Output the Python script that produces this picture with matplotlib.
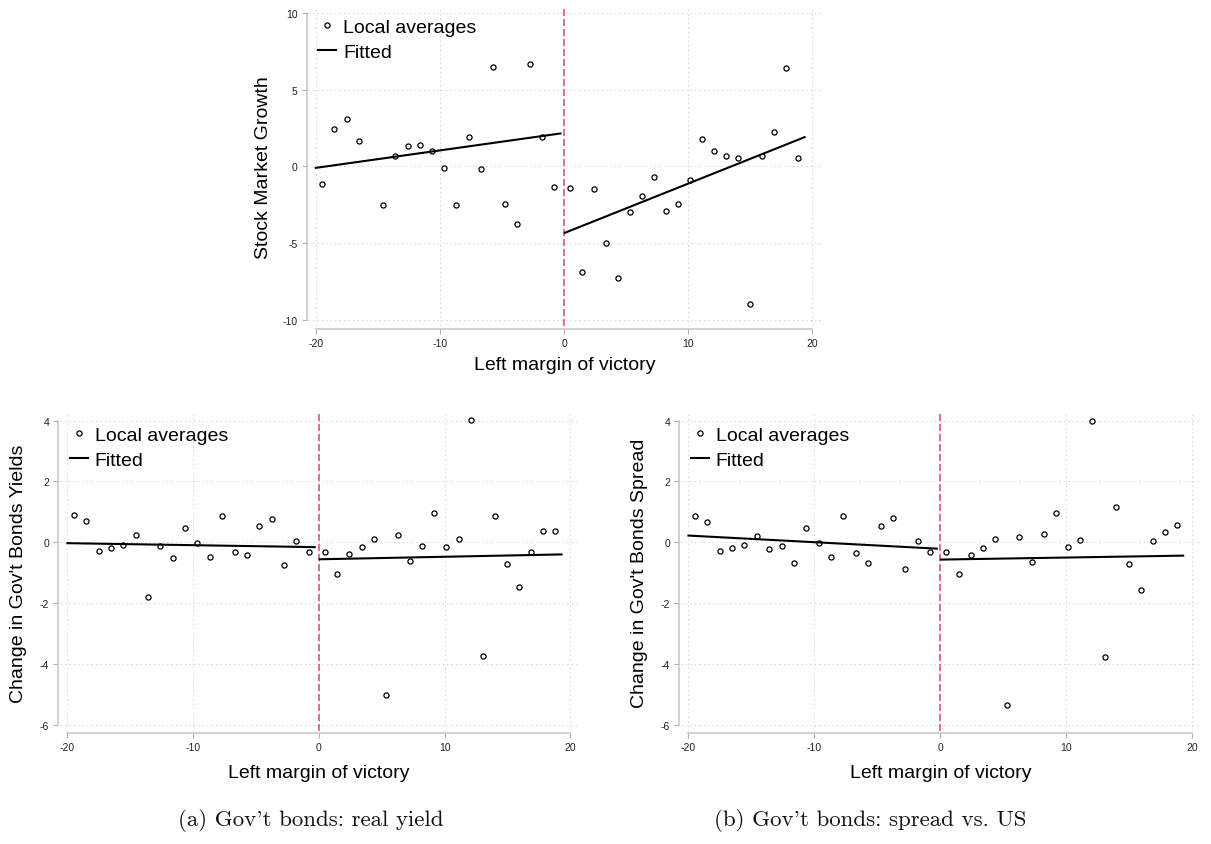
import matplotlib
matplotlib.use("Agg")
import matplotlib.pyplot as plt
from matplotlib.lines import Line2D

plt.rcParams.update({
    "font.family": ["Liberation Sans", "DejaVu Sans"],
    "axes.unicode_minus": False,
    "lines.scale_dashes": False,
})

# ---------------- data ----------------
x_ticks = [-20, -10, 0, 10, 20]

# bin centres (left / right of cutoff)
x_left = [-19.49, -18.5, -17.52, -16.54, -15.56, -14.57, -13.59, -12.6, -11.62, -10.64,
          -9.66, -8.67, -7.69, -6.71, -5.72, -4.74, -3.76, -2.77, -1.79, -0.8]
x_right = [0.49, 1.46, 2.43, 3.4, 4.37, 5.34, 6.28, 7.26, 8.22, 9.18,
           10.15, 11.12, 12.09, 13.06, 14.0, 14.97, 15.94, 16.91, 17.85, 18.82]

# Panel 1: stock market growth
stock_x_left = [-19.49, -18.5, -17.52, -16.54, -14.57, -13.59, -12.6, -11.62, -10.64,
                -9.66, -8.67, -7.69, -6.71, -5.72, -4.74, -3.76, -2.77, -1.79, -0.8]
stock_left = [-1.16, 2.41, 3.09, 1.64, -2.54, 0.70, 1.32, 1.40, 1.01,
              -0.11, -2.50, 1.91, -0.15, 6.45, -2.43, -3.73, 6.69, 1.95, -1.32]
stock_right = [-1.40, -6.89, -1.45, -5.0, -7.28, -2.98, -1.91, -0.70, -2.87, -2.46,
               -0.86, 1.78, 1.01, 0.70, 0.55, -8.99, 0.68, 2.26, 6.40, 0.57]
stock_fit_left_x = [-20.0, -0.3]
stock_fit_left_y = [-0.09, 2.15]
stock_fit_right_x = [0.06, 19.37]
stock_fit_right_y = [-4.32, 1.91]

# Panel (a): government bond yields
yield_left = [0.89, 0.69, -0.29, -0.19, -0.09, 0.23, -1.79, -0.11, -0.52, 0.46,
              -0.02, -0.47, 0.88, -0.33, -0.43, 0.53, 0.78, -0.76, 0.05, -0.32]
yield_right = [-0.31, -1.04, -0.40, -0.16, 0.11, -5.02, 0.25, -0.63, -0.13, 0.95,
               -0.15, 0.10, 4.02, -3.74, 0.88, -0.71, -1.48, -0.31, 0.37, 0.37]
yield_fit_left_x = [-20.0, -0.33]
yield_fit_left_y = [-0.03, -0.16]
yield_fit_right_x = [0.06, 19.3]
yield_fit_right_y = [-0.56, -0.40]

# Panel (b): government bond spread
spread_left = [0.87, 0.68, -0.28, -0.19, -0.09, 0.22, -0.22, -0.11, -0.67, 0.47,
               -0.03, -0.48, 0.87, -0.34, -0.67, 0.54, 0.80, -0.87, 0.05, -0.32]
spread_right = [-0.32, -1.04, -0.41, -0.18, 0.10, -5.35, 0.16, -0.64, 0.27, 0.95,
                -0.16, 0.09, 4.0, -3.77, 1.16, -0.72, -1.58, 0.05, 0.35, 0.56]
spread_fit_left_x = [-20.0, -0.27]
spread_fit_left_y = [0.22, -0.21]
spread_fit_right_x = [0.06, 19.3]
spread_fit_right_y = [-0.57, -0.44]

top_yticks = [-10, -5, 0, 5, 10]
bottom_yticks = [-6, -4, -2, 0, 2, 4]

# ---------------- style ----------------
AX_GRAY = "#c4c4c4"
CUT_COLOR = "#dc5580"
MS = 3.7
MEW = 0.9


def draw_panel(ax, xl, yl, xr, yr, fl_x, fl_y, fr_x, fr_y, yticks, ylim, ylabel,
               w_px, h_px, xlabelpad, ylabelpad):
    ax.set_xlim(-20.63, 20.69)
    ax.set_ylim(*ylim)
    ax.set_xticks(x_ticks)
    ax.set_yticks(yticks)
    ax.grid(True, linestyle=(0, (1, 2.2)), color="#d0d0d0", linewidth=0.7)
    ax.set_axisbelow(True)
    for s in ["top", "right"]:
        ax.spines[s].set_visible(False)
    ax.spines["left"].set_position(("outward", 0.95))
    ax.spines["left"].set_bounds(yticks[0], yticks[-1])
    ax.spines["bottom"].set_position(("outward", 1.6))
    ax.spines["bottom"].set_bounds(x_ticks[0], x_ticks[-1])
    for s in ["left", "bottom"]:
        ax.spines[s].set_color(AX_GRAY)
        ax.spines[s].set_linewidth(1.1)
    ax.tick_params(direction="out", length=3.6, width=0.8, color="#b0b0b0",
                   labelsize=7.5, labelcolor="#222222", pad=2.9)

    ax.axvline(0, color=CUT_COLOR, lw=1.2, dashes=(5, 2.2), zorder=2)
    ax.plot(xl, yl, ls="none", marker="o", ms=MS, mfc="none", mec="black", mew=MEW, zorder=3)
    ax.plot(xr, yr, ls="none", marker="o", ms=MS, mfc="none", mec="black", mew=MEW, zorder=3)
    ax.plot(fl_x, fl_y, color="black", lw=1.5, zorder=3)
    ax.plot(fr_x, fr_y, color="black", lw=1.5, zorder=3)

    handles = [
        Line2D([], [], ls="none", marker="o", ms=MS, mfc="none", mec="black", mew=MEW),
        Line2D([], [], color="black", lw=1.5),
    ]
    ax.legend(handles, ["Local averages", "Fitted"], loc="upper left", frameon=False,
              fontsize=14, handlelength=0.93, handletextpad=0.36, borderaxespad=0,
              borderpad=0, labelspacing=0.38,
              bbox_to_anchor=(10 / w_px, 1 - 12 / h_px))

    ax.set_xlabel("Left margin of victory", fontsize=14, labelpad=xlabelpad)
    ax.set_ylabel(ylabel, fontsize=14, labelpad=ylabelpad)


W, H = 1211, 845
fig = plt.figure(figsize=(W / 100, H / 100), dpi=100)

ax_top = fig.add_axes([308 / W, (H - 327.3) / H, 513 / W, 319.8 / H])
ax_bl = fig.add_axes([59.5 / W, (H - 732) / H, 519.5 / W, 317 / H])
ax_br = fig.add_axes([680.5 / W, (H - 732) / H, 520.2 / W, 317 / H])

draw_panel(ax_top, stock_x_left, stock_left, x_right, stock_right,
           stock_fit_left_x, stock_fit_left_y, stock_fit_right_x, stock_fit_right_y,
           top_yticks, (-10.41, 10.42), "Stock Market Growth", 513, 319.8, 6.0, 7.3)
draw_panel(ax_bl, x_left, yield_left, x_right, yield_right,
           yield_fit_left_x, yield_fit_left_y, yield_fit_right_x, yield_fit_right_y,
           bottom_yticks, (-6.21, 4.22), "Change in Gov't Bonds Yields", 519.5, 317, 8.3, 9)
draw_panel(ax_br, x_left, spread_left, x_right, spread_right,
           spread_fit_left_x, spread_fit_left_y, spread_fit_right_x, spread_fit_right_y,
           bottom_yticks, (-6.21, 4.22), "Change in Gov't Bonds Spread", 520.2, 317, 8.3, 9)

cap_y = 1 - 821 / H
fig.text(311 / W, cap_y, "(a) Gov't bonds: real yield", family=["cmr10", "DejaVu Serif"],
         fontsize=16.5, ha="center", va="center", color="#111111")
fig.text(870 / W, cap_y, "(b) Gov't bonds: spread vs. US", family=["cmr10", "DejaVu Serif"],
         fontsize=16.5, ha="center", va="center", color="#111111")

fig.savefig("out.png", dpi=100)
